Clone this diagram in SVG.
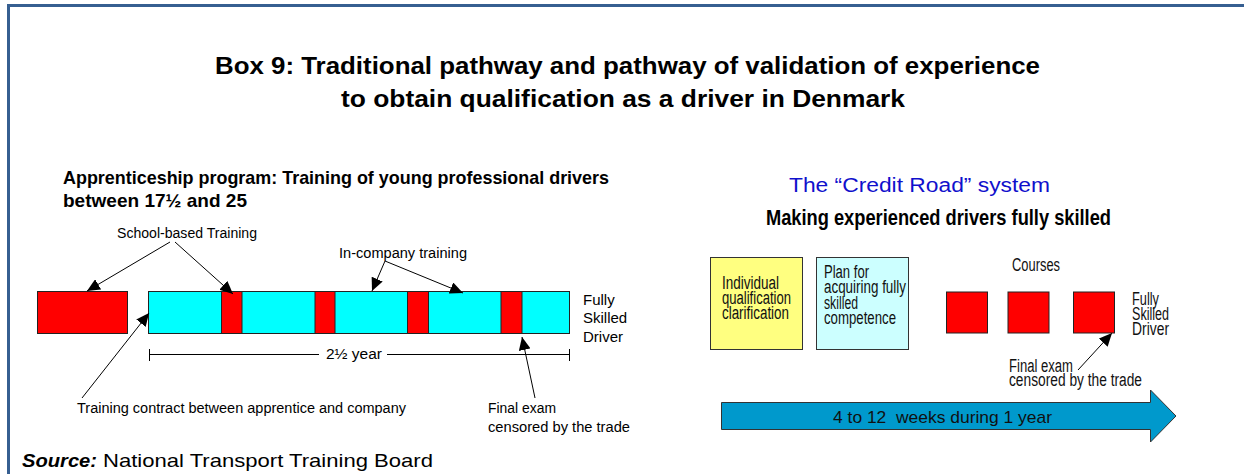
<svg xmlns="http://www.w3.org/2000/svg" width="1244" height="474" viewBox="0 0 1244 474">
<defs>
<style>
.t{font-family:"Liberation Sans",Arial,sans-serif;fill:#000}
.b{font-weight:bold}
.s14{font-size:14px}
.s15{font-size:15px}
.n{font-family:"Liberation Sans",Arial,sans-serif;font-size:18px;fill:#111}
.ln{stroke:#000;stroke-width:1;fill:none}
.red{fill:#FF0000;stroke:#222;stroke-width:1}
.cy{fill:#00FFFF;stroke:#222;stroke-width:1}
</style>
<marker id="ah" markerUnits="userSpaceOnUse" markerWidth="14" markerHeight="12" refX="13" refY="6" orient="auto">
<path d="M0,0 L13,6 L0,12 Z" fill="#000"/>
</marker>
</defs>
<rect width="1244" height="474" fill="#fff"/>
<g id="frame">
<rect x="7" y="4" width="1237" height="3" fill="#365F91"/>
<rect x="7" y="4" width="3" height="470" fill="#365F91"/>
</g>
<g id="title">
<text class="t b" x="215" y="74" font-size="23" textLength="825" lengthAdjust="spacingAndGlyphs">Box 9: Traditional pathway and pathway of validation of experience</text>
<text class="t b" x="341" y="107" font-size="23" textLength="564" lengthAdjust="spacingAndGlyphs">to obtain qualification as a driver in Denmark</text>
</g>
<g id="left-heading">
<text class="t b" x="63" y="184" font-size="19" textLength="546" lengthAdjust="spacingAndGlyphs">Apprenticeship program: Training of young professional drivers</text>
<text class="t b" x="63" y="207" font-size="19" textLength="184" lengthAdjust="spacingAndGlyphs">between 17½ and 25</text>
</g>
<g id="school-block"><rect class="red" x="37.5" y="291.5" width="90" height="42"/></g>
<g id="bar">
<rect class="cy" x="148.5" y="291.5" width="421" height="42"/>
<rect class="red" x="221.5" y="291.5" width="20.5" height="42"/>
<rect class="red" x="315" y="291.5" width="20" height="42"/>
<rect class="red" x="407.5" y="291.5" width="21" height="42"/>
<rect class="red" x="501" y="291.5" width="21" height="42"/>
</g>
<g id="left-labels">
<text class="t s14" x="117" y="238" textLength="140" lengthAdjust="spacingAndGlyphs">School-based Training</text>
<text class="t s14" x="339" y="258" textLength="128" lengthAdjust="spacingAndGlyphs">In-company training</text>
<text class="t s15" x="583" y="305">Fully</text>
<text class="t s15" x="583" y="323">Skilled</text>
<text class="t s15" x="583" y="342">Driver</text>
<text class="t s14" x="326" y="359" textLength="56" lengthAdjust="spacingAndGlyphs">2½ year</text>
<text class="t s14" x="77" y="413" textLength="329" lengthAdjust="spacingAndGlyphs">Training contract between apprentice and company</text>
<text class="t s14" x="488" y="413" textLength="68" lengthAdjust="spacingAndGlyphs">Final exam</text>
<text class="t s14" x="488" y="432" textLength="142" lengthAdjust="spacingAndGlyphs">censored by the trade</text>
</g>
<g id="connectors">
<line class="ln" x1="170" y1="242" x2="87" y2="291" marker-end="url(#ah)"/>
<line class="ln" x1="175" y1="242" x2="233" y2="294" marker-end="url(#ah)"/>
<line class="ln" x1="385" y1="261" x2="372" y2="291" marker-end="url(#ah)"/>
<line class="ln" x1="385" y1="261" x2="463" y2="293" marker-end="url(#ah)"/>
<line class="ln" x1="82" y1="398" x2="149" y2="313" marker-end="url(#ah)"/>
<line class="ln" x1="535" y1="398" x2="522" y2="337" marker-end="url(#ah)"/>
<line class="ln" x1="1078" y1="370" x2="1112" y2="333" marker-end="url(#ah)"/>
<g id="dimension">
<line class="ln" x1="149" y1="354.5" x2="319" y2="354.5"/>
<line class="ln" x1="387" y1="354.5" x2="570" y2="354.5"/>
<line class="ln" x1="149.5" y1="349" x2="149.5" y2="361"/>
<line class="ln" x1="569.5" y1="349" x2="569.5" y2="361"/>
</g>
</g>
<g id="right-heading">
<text x="789" y="192" font-family="Liberation Sans,Arial,sans-serif" font-size="20" fill="#1010CC" textLength="261" lengthAdjust="spacingAndGlyphs">The “Credit Road” system</text>
<text class="t b" x="766" y="225" font-size="22" textLength="345" lengthAdjust="spacingAndGlyphs">Making experienced drivers fully skilled</text>
</g>
<g id="individual">
<rect x="710.5" y="257.5" width="92" height="92" fill="#FFFF80" stroke="#333" stroke-width="1"/>
<text class="n" x="722" y="289" textLength="57" lengthAdjust="spacingAndGlyphs">Individual</text>
<text class="n" x="722" y="304" textLength="69" lengthAdjust="spacingAndGlyphs">qualification</text>
<text class="n" x="722" y="319" textLength="67" lengthAdjust="spacingAndGlyphs">clarification</text>
</g>
<g id="plan">
<rect x="816.5" y="257.5" width="92" height="92" fill="#CCFFFF" stroke="#333" stroke-width="1"/>
<text class="n" x="824" y="278" textLength="45" lengthAdjust="spacingAndGlyphs">Plan for</text>
<text class="n" x="824" y="293" textLength="82" lengthAdjust="spacingAndGlyphs">acquiring fully</text>
<text class="n" x="824" y="309" textLength="34" lengthAdjust="spacingAndGlyphs">skilled</text>
<text class="n" x="824" y="324" textLength="72" lengthAdjust="spacingAndGlyphs">competence</text>
</g>
<g id="courses">
<text class="n" x="1012" y="271" textLength="48" lengthAdjust="spacingAndGlyphs">Courses</text>
<rect class="red" x="946.5" y="292" width="41" height="41"/>
<rect class="red" x="1008" y="292" width="41" height="41"/>
<rect class="red" x="1073.5" y="292" width="41" height="41"/>
<text class="n" x="1132" y="305" textLength="27" lengthAdjust="spacingAndGlyphs">Fully</text>
<text class="n" x="1132" y="320" textLength="37" lengthAdjust="spacingAndGlyphs">Skilled</text>
<text class="n" x="1132" y="335" textLength="37" lengthAdjust="spacingAndGlyphs">Driver</text>
<text class="n" x="1009" y="372" textLength="64" lengthAdjust="spacingAndGlyphs">Final exam</text>
<text class="n" x="1009" y="386" textLength="133" lengthAdjust="spacingAndGlyphs">censored by the trade</text>
</g>
<g id="duration">
<path d="M721.5,402.5 H1150.5 V390 L1176,416 L1150.5,442 V429.5 H721.5 Z" fill="#0099CC" stroke="#333" stroke-width="1"/>
<text x="833" y="423" font-family="Liberation Sans,Arial,sans-serif" font-size="17" fill="#111" xml:space="preserve" textLength="219" lengthAdjust="spacingAndGlyphs">4 to 12  weeks during 1 year</text>
</g>
<g id="source">
<text class="t b" x="22" y="467" font-size="19" font-style="italic" textLength="75" lengthAdjust="spacingAndGlyphs">Source:</text>
<text class="t" x="103" y="467" font-size="19" textLength="330" lengthAdjust="spacingAndGlyphs">National Transport Training Board</text>
</g>
</svg>
